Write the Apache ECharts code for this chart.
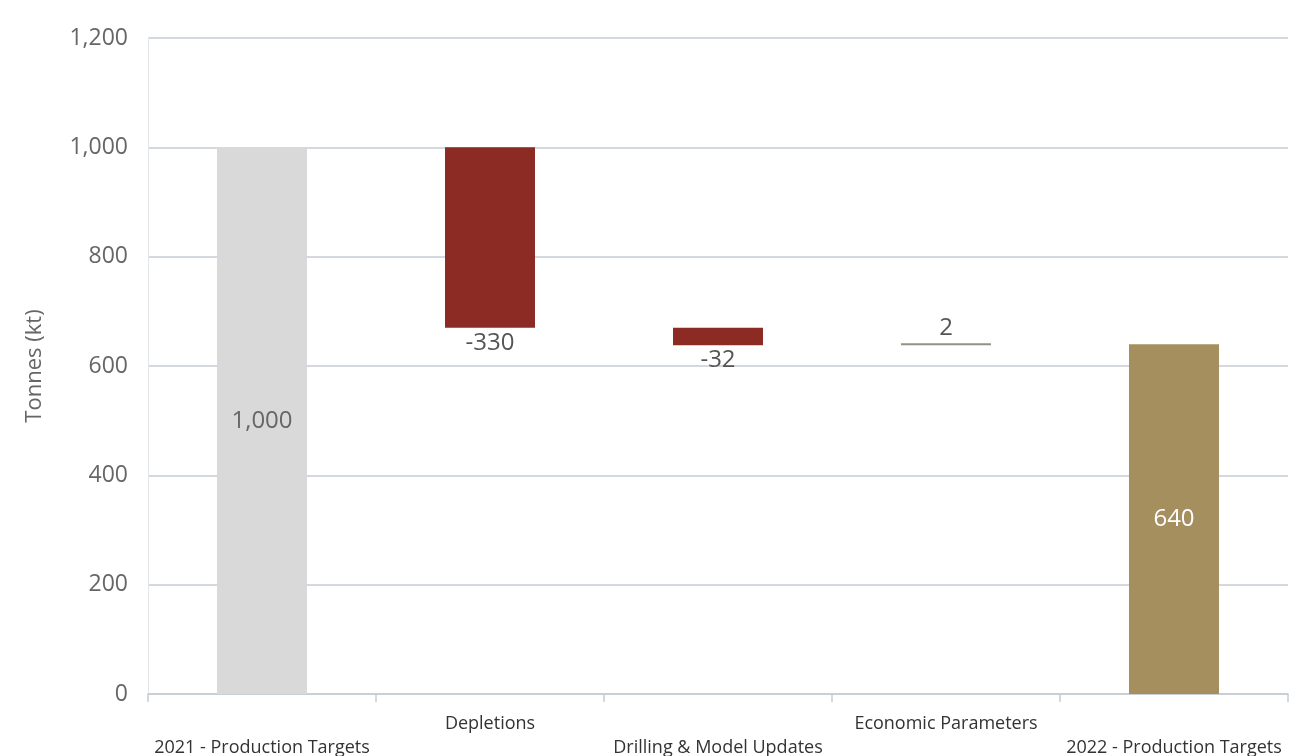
<!DOCTYPE html>
<html>
<head>
<meta charset="utf-8">
<script src="https://cdn.jsdelivr.net/npm/echarts@6/dist/echarts.min.js"></script>
<style>
html,body{margin:0;padding:0;background:#fff;}
#chart{width:1290px;height:756px;}
</style>
</head>
<body>
<div id="chart"></div>
<script>
const categories = ['2021 - Production Targets', 'Depletions', 'Drilling & Model Updates', 'Economic Parameters', '2022 - Production Targets'];
const changes = [1000, -330, -32, 2, 640];
const isTotal = [true, false, false, false, true];
const yTicks = { min: 0, max: 1200, interval: 200 };

const colors = ['#d9d9d9', '#8b2b23', '#8b2b23', '#8e9484', '#a58f5f'];
const labelColors = ['#666666', '#555555', '#555555', '#555555', '#ffffff'];
const labelPos = ['inside', 'bottom', 'bottom', 'top', 'inside'];

// compute waterfall base and visible heights
const base = [], height = [];
let running = 0;
changes.forEach((v, i) => {
  if (isTotal[i]) { base.push(0); height.push(v); running = v; }
  else {
    const next = running + v;
    base.push(Math.min(running, next));
    height.push(Math.abs(v));
    running = next;
  }
});

const fmt = n => n.toLocaleString('en-US');

const chart = echarts.init(document.getElementById('chart'));
chart.setOption({
  animation: false,
  grid: { left: 148, right: 2, top: 38, bottom: 62, outerBoundsMode: 'none', containLabel: false },
  xAxis: {
    type: 'category',
    data: categories,
    axisLine: { lineStyle: { color: '#c5cdd3', width: 1.5 } },
    axisTick: { show: true, length: 8, lineStyle: { color: '#c5cdd3', width: 1.5 } },
    axisLabel: {
      interval: 0,
      margin: 18,
      fontSize: 18,
      lineHeight: 24,
      color: '#333',
      fontFamily: '"Open Sans", sans-serif',
      formatter: (v, i) => (i % 2 === 0 ? '\n' + v : v)
    }
  },
  yAxis: {
    type: 'value',
    min: yTicks.min, max: yTicks.max, interval: yTicks.interval,
    name: 'Tonnes (kt)',
    nameLocation: 'middle',
    nameGap: 102,
    nameTextStyle: { fontSize: 22, color: '#666', fontFamily: '"Open Sans", sans-serif' },
    axisLine: { show: true, lineStyle: { color: '#e3e7ea', width: 1 } },
    axisTick: { show: false },
    axisLabel: { fontSize: 23, color: '#666', margin: 20, fontFamily: '"Open Sans", sans-serif', formatter: v => fmt(v) },
    splitLine: { lineStyle: { color: '#c5cdd3', width: 1.5 } }
  },
  series: [
    {
      type: 'bar', stack: 'w', barWidth: 90,
      itemStyle: { color: 'transparent' },
      silent: true,
      data: base
    },
    {
      type: 'bar', stack: 'w', barWidth: 90,
      barMinHeight: 2,
      data: height.map((h, i) => ({
        value: h,
        itemStyle: { color: colors[i] },
        label: {
          show: true,
          position: labelPos[i],
          distance: 3,
          color: labelColors[i],
          fontSize: 24,
          fontFamily: '"Open Sans", sans-serif',
          formatter: () => fmt(changes[i])
        }
      }))
    }
  ]
});
</script>
</body>
</html>
